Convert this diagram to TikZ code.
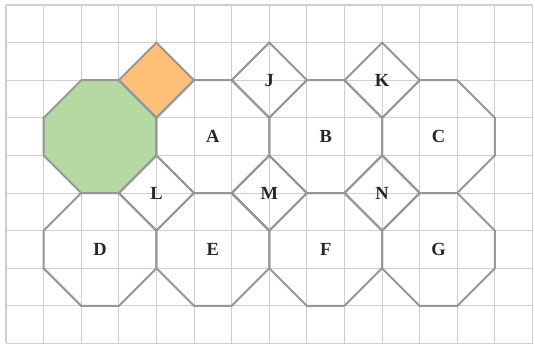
\documentclass[tikz,border=0pt]{standalone}
\usepackage{fontspec}
\setmainfont{Liberation Serif}
\usetikzlibrary{positioning}
\definecolor{gLine}{RGB}{206,206,206}
\definecolor{tLine}{RGB}{150,150,150}
\definecolor{octFill}{RGB}{182,216,162}
\definecolor{sqFill}{RGB}{255,191,120}
\tikzset{
  gridline/.style={draw=gLine, line width=0.8pt},
  tile/.style={draw=tLine, line width=1.5pt, line join=miter},
  lbl/.style={font=\fontsize{14}{16}\selectfont\bfseries, text=black!85, inner sep=1pt},
}

\begin{document}
\begin{tikzpicture}
  \useasboundingbox (-0.16,-0.053) rectangle (14.066,9.133);
  % --- squared paper ---
  \draw[gridline] (0,0) grid (14,9);

  % --- coloured tiles ---
  \fill[octFill] (2,7) -- (3,7) -- (4,6) -- (4,5) -- (3,4) -- (2,4) -- (1,5) -- (1,6) -- cycle;
  \fill[sqFill] (4,8) -- (5,7) -- (4,6) -- (3,7) -- cycle;

  % --- octagons (centre) ---
  \foreach \cx/\cy in {2.5/5.5,5.5/5.5,8.5/5.5,11.5/5.5,2.5/2.5,5.5/2.5,8.5/2.5,11.5/2.5}
    \draw[tile] (\cx-0.5,\cy+1.5) -- ++(1,0) -- ++(1,-1) -- ++(0,-1) -- ++(-1,-1)
                -- ++(-1,0) -- ++(-1,1) -- ++(0,1) -- cycle;

  % --- squares between them ---
  \foreach \sx/\sy in {4/7,7/7,10/7,4/4,7/4,10/4}
    \draw[tile] (\sx,\sy+1) -- (\sx+1,\sy) -- (\sx,\sy-1) -- (\sx-1,\sy) -- cycle;

  % --- labels ---
  \foreach \nm/\lx/\ly in {A/5.5/5.5,B/8.5/5.5,C/11.5/5.5,D/2.5/2.5,E/5.5/2.5,
                           F/8.5/2.5,G/11.5/2.5,J/7/7,K/10/7,L/4/4,M/7/4,N/10/4}
    \node[lbl] (\nm) at (\lx,\ly) {\nm};
\end{tikzpicture}
\end{document}
